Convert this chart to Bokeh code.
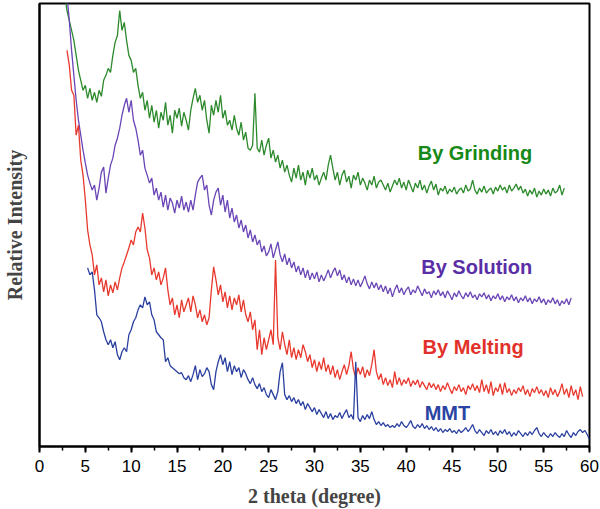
import numpy as np
from bokeh.plotting import figure
from bokeh.models import Range1d, SingleIntervalTicker, FixedTicker, ColumnDataSource
from bokeh.core.properties import value
from bokeh.embed import file_html
from bokeh.resources import INLINE

STEP = 0.25

grinding_start = 2.75
grinding = [455, 440, 430, 420, 410, 395, 380, 370, 360, 365, 352, 362, 350, 358, 348, 360, 354, 370, 375, 382,
            378, 395, 408, 415, 440, 420, 428, 410, 395, 390, 378, 382, 365, 352, 358, 340, 350, 332, 345, 328,
            340, 322, 338, 330, 348, 325, 335, 317, 340, 332, 342, 324, 338, 330, 320, 340, 352, 362, 348, 355,
            340, 350, 330, 317, 345, 335, 350, 338, 355, 332, 340, 325, 330, 320, 335, 322, 315, 328, 310, 318,
            302, 300, 305, 357, 302, 298, 310, 295, 305, 312, 292, 300, 288, 295, 282, 290, 278, 285, 275, 268,
            282, 272, 285, 270, 278, 265, 280, 272, 282, 270, 275, 265, 272, 278, 270, 285, 295, 282, 270, 278,
            265, 275, 280, 268, 274, 262, 275, 270, 278, 265, 272, 267, 260, 270, 265, 274, 262, 268, 270, 265,
            260, 267, 258, 264, 270, 265, 272, 262, 268, 260, 270, 264, 258, 267, 262, 270, 260, 265, 257, 264,
            269, 260, 266, 255, 262, 259, 264, 256, 261, 258, 263, 256, 260, 262, 257, 265, 259, 261, 270, 260,
            256, 262, 258, 264, 257, 260, 262, 256, 263, 259, 265, 260, 263, 257, 265, 259, 262, 266, 260, 264,
            257, 261, 254, 260, 256, 262, 253, 259, 255, 261, 256, 260, 254, 262, 257, 259, 265, 255, 262]

solution_start = 3.0
solution = [455, 430, 400, 375, 350, 330, 315, 300, 287, 275, 267, 260, 265, 250, 262, 278, 283, 257, 272, 285,
            292, 305, 312, 322, 335, 345, 352, 338, 350, 330, 322, 310, 295, 300, 282, 275, 267, 272, 255, 262,
            250, 258, 243, 255, 240, 252, 247, 237, 250, 242, 254, 240, 248, 238, 250, 240, 255, 268, 272, 275,
            260, 265, 245, 235, 250, 258, 262, 245, 255, 238, 250, 232, 242, 228, 235, 222, 230, 218, 225, 212,
            220, 208, 215, 205, 210, 198, 204, 194, 198, 206, 192, 200, 208, 195, 188, 196, 185, 192, 182, 188,
            178, 184, 175, 182, 172, 180, 170, 177, 171, 178, 168, 175, 169, 174, 180, 172, 178, 182, 174, 180,
            170, 175, 167, 173, 165, 171, 164, 170, 163, 168, 174, 166, 161, 168, 162, 167, 160, 165, 158, 164,
            156, 162, 153, 160, 165, 157, 162, 155, 160, 163, 155, 160, 157, 164, 159, 154, 161, 156, 158, 152,
            159, 155, 160, 154, 158, 152, 159, 155, 150, 157, 153, 159, 154, 151, 157, 153, 158, 152, 155, 150,
            156, 153, 157, 151, 155, 149, 154, 151, 156, 150, 154, 148, 153, 150, 155, 149, 153, 147, 152, 149,
            154, 148, 152, 146, 151, 148, 153, 147, 151, 145, 150, 147, 152, 146, 150, 144, 149, 146, 151, 145,
            152]

melting_start = 3.0
melting = [400, 385, 360, 355, 315, 325, 290, 275, 250, 220, 205, 195, 175, 185, 165, 172, 158, 170, 154, 165,
           157, 168, 160, 172, 182, 188, 195, 202, 210, 205, 218, 223, 218, 237, 222, 200, 192, 175, 182, 170,
           178, 165, 172, 182, 160, 145, 152, 135, 145, 132, 150, 138, 145, 152, 138, 154, 145, 132, 140, 128,
           135, 125, 132, 160, 183, 170, 155, 165, 148, 158, 142, 154, 140, 152, 145, 155, 138, 150, 135, 128,
           138, 120, 130, 100, 120, 95, 112, 100, 110, 120, 105, 190, 112, 100, 118, 105, 95, 110, 92, 102,
           90, 100, 92, 105, 98, 88, 95, 82, 90, 78, 88, 80, 92, 78, 85, 75, 84, 72, 80, 70,
           78, 85, 75, 84, 98, 80, 72, 82, 75, 83, 72, 80, 74, 85, 100, 78, 70, 76, 65, 72,
           64, 70, 62, 78, 65, 72, 64, 70, 66, 72, 63, 69, 65, 70, 62, 68, 64, 60, 67, 62,
           66, 60, 65, 58, 64, 60, 67, 61, 56, 63, 59, 65, 58, 62, 55, 64, 60, 66, 59, 64,
           57, 70, 58, 65, 56, 68, 54, 62, 58, 66, 55, 67, 57, 61, 54, 60, 56, 62, 58, 64,
           55, 60, 53, 61, 57, 63, 56, 60, 54, 59, 52, 62, 55, 60, 53, 58, 66, 55, 61, 52,
           64, 54, 60, 50, 63, 53]

mmt_start = 5.25
mmt = [182, 175, 178, 160, 135, 132, 128, 118, 110, 105, 110, 102, 108, 95, 90, 98, 102, 98, 115, 120,
       128, 132, 140, 145, 142, 153, 145, 148, 135, 130, 118, 115, 112, 110, 88, 92, 84, 82, 80, 78,
       76, 77, 72, 70, 74, 68, 75, 84, 70, 80, 73, 76, 82, 78, 65, 60, 78, 88, 95, 85,
       92, 78, 88, 75, 84, 78, 82, 72, 80, 76, 70, 66, 72, 65, 61, 66, 58, 62, 55, 52,
       60, 55, 50, 58, 78, 87, 55, 50, 54, 48, 52, 46, 50, 44, 48, 40, 46, 42, 38, 42,
       35, 40, 36, 32, 38, 31, 36, 30, 34, 32, 37, 31, 36, 40, 32, 35, 30, 88, 32, 28,
       34, 30, 35, 31, 38, 30, 25, 28, 24, 27, 23, 25, 22, 24, 22, 26, 23, 28, 24, 22,
       25, 29, 23, 21, 25, 22, 26, 21, 24, 20, 23, 19, 22, 18, 21, 17, 20, 18, 21, 17,
       19, 16, 20, 17, 19, 22, 18, 21, 25, 19, 16, 20, 17, 14, 19, 16, 20, 15, 18, 14,
       19, 16, 20, 15, 18, 13, 17, 14, 19, 16, 13, 17, 14, 18, 15, 19, 22, 16, 13, 17,
       14, 12, 16, 13, 17, 14, 12, 16, 13, 19, 15, 12, 17, 14, 18, 20, 17, 19, 15, 10]

series = [
    ("By Grinding", grinding_start, grinding, "#2c8a2c", "#168916", 47.5, 297),
    ("By Solution", solution_start, solution, "#6a45b6", "#5a2ea6", 47.7, 183),
    ("By Melting", melting_start, melting, "#e8392f", "#e2312a", 47.3, 103),
    ("MMT", mmt_start, mmt, "#2a40a0", "#2b44a3", 44.5, 37),
]

p = figure(width=600, height=509, output_backend="svg", toolbar_location=None,
           x_range=Range1d(0, 60), y_range=Range1d(3, 447),
           min_border_left=36, min_border_right=11, min_border_top=3, min_border_bottom=62)
p.grid.visible = False
p.outline_line_color = "black"
p.outline_line_width = 2
p.background_fill_color = "white"
p.border_fill_color = "white"

for name, start, vals, lc, tc, lx, ly in series:
    xs = start + STEP * np.arange(len(vals))
    src = ColumnDataSource(dict(x=xs, y=vals))
    p.line("x", "y", source=src, line_color=lc, line_width=1.3)
    p.text(x=[lx], y=[ly], text=[name], text_color=tc, text_font=value("Liberation Sans"),
           text_font_style="bold", text_font_size="20px", text_align="center", text_baseline="middle")

xa = p.xaxis[0]
xa.ticker = SingleIntervalTicker(interval=5, num_minor_ticks=2)
xa.axis_line_width = 2
xa.major_tick_line_width = 2
xa.minor_tick_line_width = 1.5
xa.major_tick_out = 6
xa.major_tick_in = 0
xa.minor_tick_out = 4
xa.minor_tick_in = 0
xa.major_label_text_font = "Liberation Sans"
xa.major_label_text_font_size = "17px"
xa.major_label_text_color = "black"
xa.major_label_standoff = 7
xa.axis_label = "2 theta (degree)"
xa.axis_label_text_font = "Liberation Serif"
xa.axis_label_text_font_style = "bold"
xa.axis_label_text_font_size = "20px"
xa.axis_label_standoff = 10

ya = p.yaxis[0]
ya.ticker = FixedTicker(ticks=[])
ya.axis_line_width = 2
ya.major_tick_line_color = None
ya.minor_tick_line_color = None
ya.major_label_standoff = 0
ya.axis_label = "Relative Intensity"
ya.axis_label_text_font = "Liberation Serif"
ya.axis_label_text_font_style = "bold"
ya.axis_label_text_font_size = "20px"
ya.axis_label_standoff = 14

open("out.html", "w").write(file_html(p, INLINE))
